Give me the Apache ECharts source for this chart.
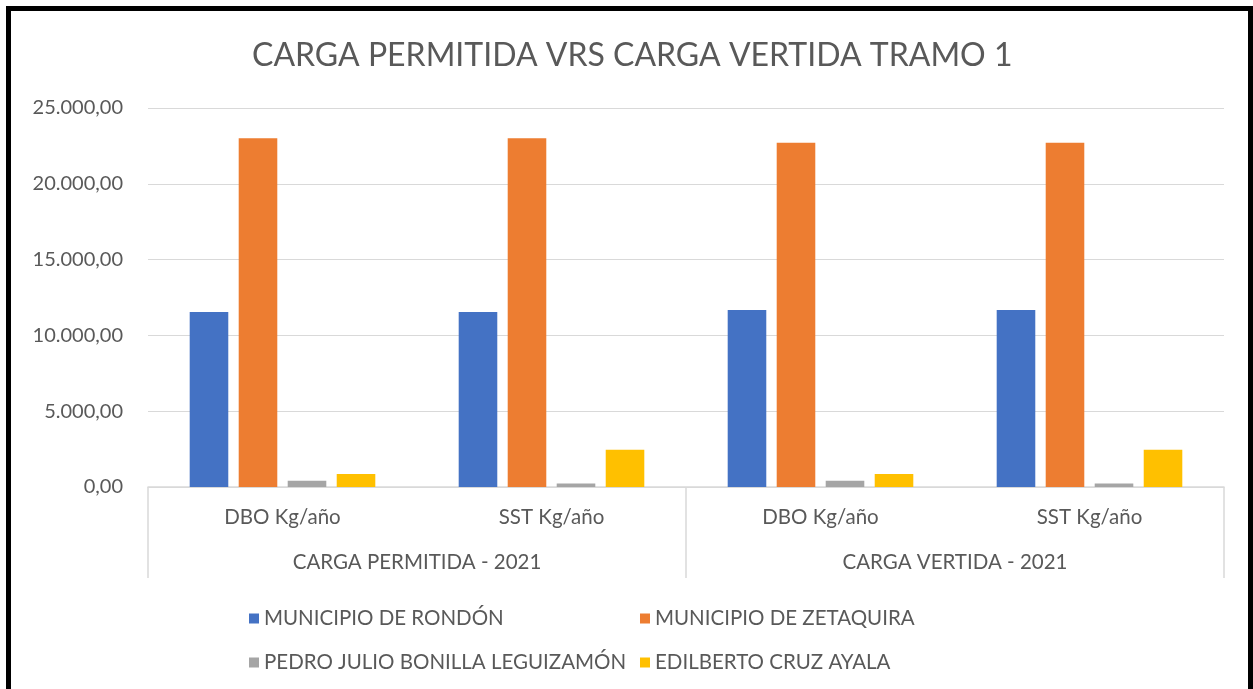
<!DOCTYPE html>
<html><head><meta charset="utf-8">
<script src="https://cdn.jsdelivr.net/npm/echarts@6/dist/echarts.min.js"></script>
<style>
html,body{margin:0;padding:0;background:#fff;overflow:hidden}
#frame{position:absolute;left:6px;top:6px;width:1237px;height:700px;border:5px solid #000;box-sizing:content-box}
#c{position:absolute;left:0;top:0;width:1253px;height:689px}
</style></head><body>
<div id="c"></div><div id="frame"></div>
<script>
const categories = ['DBO Kg/año', 'SST Kg/año', 'DBO Kg/año', 'SST Kg/año'];
const groups = ['CARGA PERMITIDA - 2021', 'CARGA VERTIDA - 2021'];
const seriesNames = ['MUNICIPIO DE RONDÓN', 'MUNICIPIO DE ZETAQUIRA', 'PEDRO JULIO BONILLA LEGUIZAMÓN', 'EDILBERTO CRUZ AYALA'];
const rondon = [11550, 11550, 11680, 11680];
const zetaquira = [23000, 23000, 22700, 22700];
const pedro = [420, 230, 420, 230];
const edilberto = [850, 2450, 850, 2450];
const colors = ['#4472C4', '#ED7D31', '#A5A5A5', '#FFC000'];

const FONT = 'Lato, "Liberation Sans", sans-serif';
const TXT = '#595959';
function fmt(v){
  const s = Math.round(v).toString().replace(/\B(?=(\d{3})+(?!\d))/g, '.');
  return s + ',00';
}
const chart = echarts.init(document.getElementById('c'));
const values = [rondon, zetaquira, pedro, edilberto];
chart.setOption({
  animation: false,
  color: colors,
  title: {text: 'CARGA PERMITIDA VRS CARGA VERTIDA TRAMO 1', left: 247, top: 35,
    textStyle: {fontFamily: FONT, fontSize: 32, fontWeight: 'normal', color: TXT}},
  grid: {left: 148, right: 29, top: 108, bottom: 202},
  legend: [
    {orient: 'vertical', left: 244, top: 603, itemWidth: 10, itemHeight: 10, itemGap: 23,
     icon: 'rect', data: [seriesNames[0], seriesNames[2]],
     textStyle: {fontFamily: FONT, fontSize: 20.5, color: TXT}},
    {orient: 'vertical', left: 635, top: 603, itemWidth: 10, itemHeight: 10, itemGap: 23,
     icon: 'rect', data: [seriesNames[1], seriesNames[3]],
     textStyle: {fontFamily: FONT, fontSize: 20.5, color: TXT}}
  ],
  xAxis: [
    {type: 'category', data: categories, position: 'bottom',
     axisLine: {lineStyle: {color: '#D9D9D9', width: 1.5}},
     axisTick: {show: false},
     axisLabel: {margin: 20, fontFamily: FONT, fontSize: 20.5, color: TXT}},
    {type: 'category', data: groups, position: 'bottom', offset: 0,
     axisLine: {show: false},
     axisTick: {show: true, length: 91, lineStyle: {color: '#D9D9D9', width: 1.5}},
     axisLabel: {margin: 65, fontFamily: FONT, fontSize: 20.5, color: TXT}}
  ],
  yAxis: {type: 'value', min: 0, max: 25000, interval: 5000,
    axisLine: {show: false}, axisTick: {show: false},
    splitLine: {lineStyle: {color: '#D9D9D9', width: 1}},
    axisLabel: {margin: 25, formatter: fmt, fontFamily: FONT, fontSize: 20, color: TXT}},
  series: values.map((d, i) => ({
    name: seriesNames[i], type: 'bar', data: d, xAxisIndex: 0,
    barGap: '27%', barCategoryGap: '31%',
    itemStyle: {color: colors[i]}
  }))
});
</script></body></html>
